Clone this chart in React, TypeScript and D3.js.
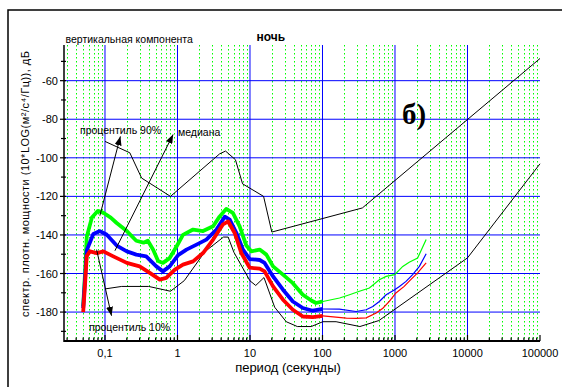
import React from 'react';
import * as d3 from 'd3';

// Peterson noise models (acceleration, dB)
const nhnmPeriod = [0.1, 0.22, 0.32, 0.8, 3.8, 4.6, 6.3, 7.9, 15.4, 20, 354.8, 100000];
const nhnmDb = [-91.5, -97.4, -110.5, -120.0, -98.0, -96.5, -101.0, -113.5, -120.0, -138.5, -126.0, -48.5];
const nlnmPeriod = [0.1, 0.17, 0.4, 0.8, 1.24, 2.4, 4.3, 5.0, 6.0, 10, 12, 15.6, 21.9, 31.6, 45, 70, 101, 154, 328, 600, 10000, 100000];
const nlnmDb = [-168.0, -166.7, -166.7, -169.2, -163.7, -148.6, -141.1, -141.1, -149.0, -163.8, -166.2, -162.1, -177.5, -185.0, -187.5, -187.5, -185.0, -185.0, -187.5, -184.4, -151.9, -103.1];

// percentile 90% (green)
const p90Period = [0.05, 0.053, 0.056, 0.066, 0.08, 0.095, 0.12, 0.145, 0.2, 0.27, 0.34, 0.39, 0.46, 0.54, 0.63, 0.78, 0.97, 1.19, 1.64, 2.25, 3.1, 3.8, 4.7, 5.8, 7.2, 8.9, 10.4, 13.6, 16.8, 20.8, 28.5, 39, 53.5, 70, 81.5, 101, 172, 236, 323, 443, 608, 755, 990, 1280, 1570, 2050, 2690];
const p90Db = [-177, -160, -141, -131, -127.5, -128.5, -131, -133.8, -138, -143, -144, -143, -147.5, -153.5, -154.5, -152, -146, -140, -137.2, -138, -135.5, -130.5, -126.5, -128.6, -135.5, -145.5, -148.5, -147.6, -150.2, -156.3, -160.6, -165, -171, -174, -175.3, -174.5, -172.7, -171, -169.2, -167.5, -163.2, -161.5, -160.6, -156.3, -154.2, -152, -142.4];

// median (blue)
const p50Period = [0.05, 0.053, 0.056, 0.069, 0.085, 0.105, 0.145, 0.2, 0.27, 0.37, 0.51, 0.63, 0.78, 1.02, 1.33, 1.83, 2.5, 3.45, 4.5, 5.25, 6.5, 8, 9.9, 13.6, 15.9, 20.8, 28.5, 39, 53.5, 73.6, 101, 171, 290, 400, 494, 608, 755, 990, 1150, 1420, 1750, 2170, 2690];
const p50Db = [-178, -163, -148, -139.5, -138, -139.8, -145.5, -148.5, -150.2, -151.1, -156.3, -158.9, -156.3, -150.5, -147.6, -145, -142.4, -137.2, -130.5, -132, -139, -147.6, -152.5, -153, -154.5, -161.5, -168.4, -174.5, -177.9, -179.3, -178.4, -178.5, -179.7, -178.8, -177.1, -174.5, -171, -168.4, -166.7, -164.1, -160.6, -156.3, -149.8];

// percentile 10% (red)
const p10Period = [0.05, 0.053, 0.056, 0.062, 0.077, 0.095, 0.13, 0.2, 0.3, 0.415, 0.57, 0.7, 0.92, 1.19, 1.64, 2.25, 3.1, 4.25, 5, 6.15, 7.6, 9.9, 13.6, 15.9, 20.8, 28.5, 39, 53.5, 73.6, 101, 213, 290, 400, 550, 680, 835, 1030, 1340, 1650, 2050, 2690];
const p10Db = [-180, -166, -151, -148.5, -149.4, -148.5, -151.1, -154.5, -156.3, -159.7, -163.2, -162.3, -158, -155.4, -153.7, -149.4, -142.4, -134.5, -133, -139, -149.4, -157, -157.5, -158.9, -166.7, -173.6, -178.8, -182.3, -182.6, -182, -183.1, -183.3, -183, -180.5, -178, -174.5, -170.1, -166.7, -163.2, -159.7, -154.5];

const xTickValues = [0.1, 1, 10, 100, 1000, 10000, 100000];
const xTickLabels = ['0,1', '1', '10', '100', '1000', '10000', '100000'];
const yTickValues = [-60, -80, -100, -120, -140, -160, -180];
const yMinorValues = [-50, -70, -90, -110, -130, -150, -170, -190];

const FONT = 'Arial, "Liberation Sans", sans-serif';

export default function App() {
  const x = d3.scaleLog().domain([0.0272, 100000]).range([64, 540]);
  const y = d3.scaleLinear().domain([-195, -41.5]).range([341, 45]);
  const [top, bottom] = [45, 341];
  const [left, right] = [64, 540];

  const line = d3.line<[number, number]>().x(d => x(d[0])).y(d => y(d[1]));
  const zip = (p: number[], v: number[]) => p.map((pp, i) => [pp, v[i]] as [number, number]);

  const minor: number[] = [];
  for (let e = -2; e <= 4; e++) {
    for (let k = 2; k <= 9; k++) {
      const v = k * Math.pow(10, e);
      if (v > 0.0272 && v < 100000) minor.push(v);
    }
  }

  const series = [
    { p: p90Period, v: p90Db, color: '#00ff00' },
    { p: p50Period, v: p50Db, color: '#0000ff' },
    { p: p10Period, v: p10Db, color: '#ff0000' },
  ];

  const arrows = [
    { from: [0.085, -130], to: [0.163, -88.9] },
    { from: [0.137, -148.2], to: [0.87, -87.9] },
    { from: [0.0766, -147.6], to: [0.123, -181.9] },
  ];

  return (
    <svg width={562} height={387} style={{ position: 'absolute', left: 0, top: 0, background: '#fff' }}>
      <defs>
        <marker id="ah" markerUnits="userSpaceOnUse" markerWidth={9} markerHeight={7} refX={9} refY={3.5} orient="auto">
          <path d="M0,0 L9,3.5 L0,7 z" fill="#000" />
        </marker>
      </defs>
      <rect x={8} y={10} width={700} height={500} fill="#fff" stroke="#000" strokeWidth={1.5} />

      {/* minor dotted grid */}
      {minor.map((m, i) => (
        <line key={'mg' + i} x1={Math.round(x(m)) + 0.5} x2={Math.round(x(m)) + 0.5} y1={top} y2={bottom} stroke="#00ff00" strokeWidth={1} strokeDasharray="1.5 2.5" />
      ))}
      {/* major grid */}
      {xTickValues.filter(v => v < 100000).map((v, i) => (
        <line key={'vg' + i} x1={x(v)} x2={x(v)} y1={top} y2={bottom} stroke="#0000ff" strokeWidth={1} />
      ))}
      {yTickValues.map((v, i) => (
        <line key={'hg' + i} x1={left} x2={right} y1={y(v)} y2={y(v)} stroke="#0000ff" strokeWidth={1} />
      ))}

      {/* noise models */}
      <path d={line(zip(nhnmPeriod, nhnmDb)) || ''} fill="none" stroke="#000" strokeWidth={1} />
      <path d={line(zip(nlnmPeriod, nlnmDb)) || ''} fill="none" stroke="#000" strokeWidth={1} />

      {/* percentile curves */}
      {series.map((s, i) => {
        const pts = zip(s.p, s.v);
        const thick = pts.filter(d => d[0] <= 101);
        const thin = pts.filter(d => d[0] >= 101);
        return (
          <g key={'s' + i}>
            <path d={line(thick) || ''} fill="none" stroke={s.color} strokeWidth={3.8} strokeLinejoin="round" />
            <path d={line(thin) || ''} fill="none" stroke={s.color} strokeWidth={1.2} />
          </g>
        );
      })}

      {/* axes */}
      <line x1={left} x2={left} y1={top} y2={bottom + 1} stroke="#000" strokeWidth={1.5} />
      <line x1={left} x2={right} y1={bottom} y2={bottom} stroke="#000" strokeWidth={2} />
      {yTickValues.map((v, i) => (
        <g key={'yt' + i}>
          <line x1={left - 4} x2={left + 2} y1={y(v)} y2={y(v)} stroke="#000" strokeWidth={1.2} />
          <text x={58} y={y(v) + 4} textAnchor="end" fontSize={11} fontFamily={FONT}>{v}</text>
        </g>
      ))}
      {yMinorValues.map((v, i) => (
        <line key={'ym' + i} x1={left - 3} x2={left + 2} y1={y(v)} y2={y(v)} stroke="#000" strokeWidth={1.2} />
      ))}
      {xTickValues.map((v, i) => (
        <g key={'xt' + i}>
          <line x1={x(v)} x2={x(v)} y1={bottom} y2={bottom - 6} stroke="#000" strokeWidth={1.2} />
          <text x={x(v)} y={357} textAnchor="middle" fontSize={11} fontFamily={FONT}>{xTickLabels[i]}</text>
        </g>
      ))}
      {minor.map((m, i) => (
        <line key={'xm' + i} x1={x(m)} x2={x(m)} y1={bottom} y2={bottom - 3.5} stroke="#000" strokeWidth={1.2} />
      ))}

      {/* annotations */}
      {arrows.map((a, i) => (
        <line key={'ar' + i} x1={x(a.from[0])} y1={y(a.from[1])} x2={x(a.to[0])} y2={y(a.to[1])} stroke="#000" strokeWidth={1} markerEnd="url(#ah)" />
      ))}
      <text x={80} y={134} fontSize={10.5} fontFamily={FONT}>процентиль 90%</text>
      <text x={178} y={135.5} fontSize={10.5} fontFamily={FONT}>медиана</text>
      <text x={89} y={330.5} fontSize={10.5} fontFamily={FONT}>процентиль 10%</text>
      <text x={402} y={124} fontSize={29} fontWeight="bold" fontFamily='"Times New Roman", "Liberation Serif", serif'>б)</text>

      <text x={65.5} y={43} fontSize={10.5} fontFamily={FONT}>вертикальная компонента</text>
      <text x={256.5} y={41} fontSize={12} fontWeight="bold" fontFamily={FONT}>ночь</text>
      <text x={288} y={372} textAnchor="middle" fontSize={13} fontFamily={FONT}>период (секунды)</text>
      <text transform="translate(29,184) rotate(-90)" textAnchor="middle" fontSize={11} fontFamily={FONT} textLength={266} lengthAdjust="spacing">спектр. плотн. мощности (10*LOG(м²/с⁴/Гц)), дБ</text>
    </svg>
  );
}
